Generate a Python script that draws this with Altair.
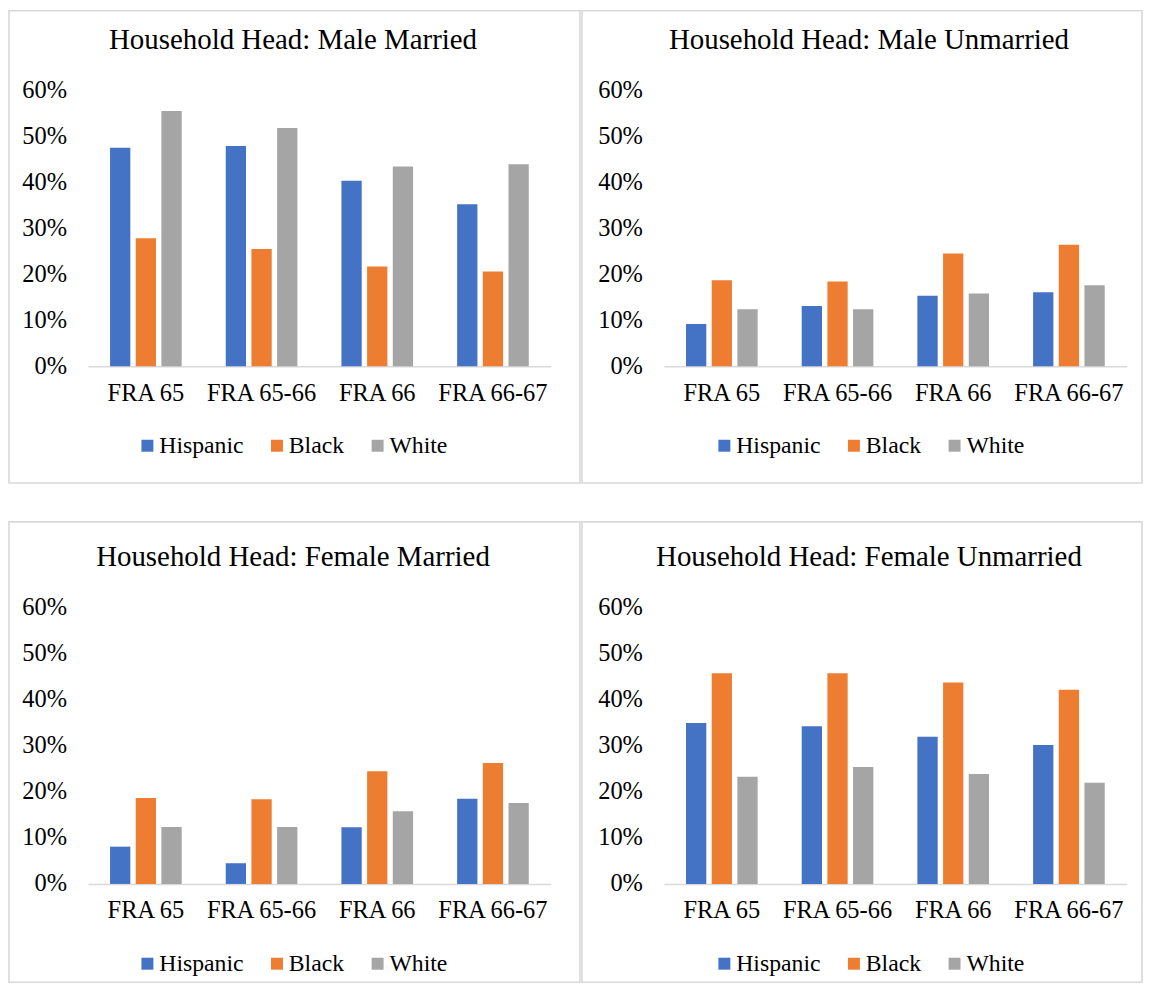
import altair as alt
import pandas as pd

categories = ["FRA 65", "FRA 65-66", "FRA 66", "FRA 66-67"]
groups = ["Hispanic", "Black", "White"]
colors = ["#4472C4", "#ED7D31", "#A5A5A5"]
y_ticks = [0, 0.1, 0.2, 0.3, 0.4, 0.5, 0.6]

titles = [
    "Household Head: Male Married",
    "Household Head: Male Unmarried",
    "Household Head: Female Married",
    "Household Head: Female Unmarried",
]

# values in percent, per panel and group
male_married_hispanic = [47.5, 47.9, 40.3, 35.2]
male_married_black = [27.8, 25.5, 21.7, 20.6]
male_married_white = [55.5, 51.8, 43.4, 43.9]

male_unmarried_hispanic = [9.2, 13.1, 15.3, 16.1]
male_unmarried_black = [18.7, 18.4, 24.5, 26.4]
male_unmarried_white = [12.4, 12.4, 15.8, 17.6]

female_married_hispanic = [8.1, 4.5, 12.3, 18.5]
female_married_black = [18.7, 18.4, 24.5, 26.3]
female_married_white = [12.4, 12.4, 15.8, 17.6]

female_unmarried_hispanic = [35.0, 34.3, 32.0, 30.2]
female_unmarried_black = [45.8, 45.8, 43.8, 42.2]
female_unmarried_white = [23.3, 25.4, 23.9, 22.0]

panel_values = [
    (male_married_hispanic, male_married_black, male_married_white),
    (male_unmarried_hispanic, male_unmarried_black, male_unmarried_white),
    (female_married_hispanic, female_married_black, female_married_white),
    (female_unmarried_hispanic, female_unmarried_black, female_unmarried_white),
]

FONT = "Liberation Serif"
FS = 24.5
LEGEND_FS = 23.8
GRID = "#d9d9d9"

LEFT_W, RIGHT_W = 573, 562
ROW_H = [474, 462]
ROW_TOP = [8.5, 519]
COL_LEFT = [8, 581]
ROW_SPACING = 37

# page-coordinate layout
col_plot_x = [(87.3, 551.7), (663.3, 1127.7)]
col_ylabel_end = [65.7, 641.7]
col_legend_x = [135, 712]
col_title_center = [293, 869]
row_baseline = [365.3, 882.3]
row_title_dy = [48.3, 54.7]
px_per_unit = 277.0 / 0.6
row_legend_cy = [445, 962.3]


def make_panel(i):
    r, c = divmod(i, 2)
    h_vals, b_vals, w_vals = panel_values[i]
    rows = []
    for g, vals in zip(groups, (h_vals, b_vals, w_vals)):
        for cat, v in zip(categories, vals):
            rows.append({"category": cat, "group": g, "value": v / 100.0})
    df = pd.DataFrame(rows)

    vw = LEFT_W if c == 0 else RIGHT_W
    vh = ROW_H[r]
    x0 = col_plot_x[c][0] - COL_LEFT[c]
    x1 = col_plot_x[c][1] - COL_LEFT[c]
    yb = row_baseline[r] - ROW_TOP[r]
    yt = yb - 0.6 * px_per_unit
    ylab = col_ylabel_end[c] - COL_LEFT[c]
    tdx = col_title_center[c] - COL_LEFT[c] - vw / 2.0

    chart = alt.Chart(df).mark_bar().encode(
        x=alt.X(
            "category:N",
            sort=categories,
            scale=alt.Scale(range=[x0, x1], paddingInner=0, paddingOuter=0),
            axis=alt.Axis(
                title=None, labelAngle=0, ticks=False, tickSize=0,
                domainColor=GRID, domainWidth=1.6, labelPadding=15,
                offset=yb - vh, labelFont=FONT, labelFontSize=FS,
                labelColor="black", labelLimit=300,
            ),
        ),
        xOffset=alt.XOffset(
            "group:N", sort=groups,
            scale=alt.Scale(paddingInner=0.21, paddingOuter=0.858),
        ),
        y=alt.Y(
            "value:Q",
            scale=alt.Scale(domain=[0, 0.6], range=[yb, yt], nice=False),
            axis=alt.Axis(
                title=None, values=y_ticks, format=".0%", grid=False,
                domain=False, ticks=False, tickSize=0, labelPadding=0,
                offset=-ylab, labelFont=FONT, labelFontSize=FS,
                labelColor="black",
            ),
        ),
        color=alt.Color(
            "group:N", sort=groups,
            scale=alt.Scale(domain=groups, range=colors),
            legend=alt.Legend(
                title=None, orient="none", direction="horizontal",
                legendX=col_legend_x[c] - COL_LEFT[c],
                legendY=row_legend_cy[r] - ROW_TOP[r] - 12,
                symbolType="square", symbolSize=144, symbolStrokeWidth=0,
                labelFont=FONT, labelFontSize=LEGEND_FS, labelColor="black",
                labelOffset=0, columnPadding=21, padding=0,
                labelLimit=300,
            ),
        ),
    ).properties(
        width=vw,
        height=vh,
        title=alt.TitleParams(
            text=titles[i], font=FONT, fontSize=29, fontWeight="normal",
            color="black", anchor="middle", frame="group",
            dx=tdx, dy=row_title_dy[r],
        ),
    )
    return chart


p = [make_panel(i) for i in range(4)]

row1 = alt.hconcat(p[0], p[1], spacing=0).resolve_scale(color="independent").resolve_legend(color="independent")
row2 = alt.hconcat(p[2], p[3], spacing=0).resolve_scale(color="independent").resolve_legend(color="independent")

chart = alt.vconcat(
    row1, row2,
    spacing=ROW_SPACING,
).properties(padding=0).configure_view(
    stroke=GRID, strokeWidth=1.6
).resolve_scale(color="independent").resolve_legend(color="independent")

chart.save("out.html", embed_options={"renderer": "svg", "actions": False})
